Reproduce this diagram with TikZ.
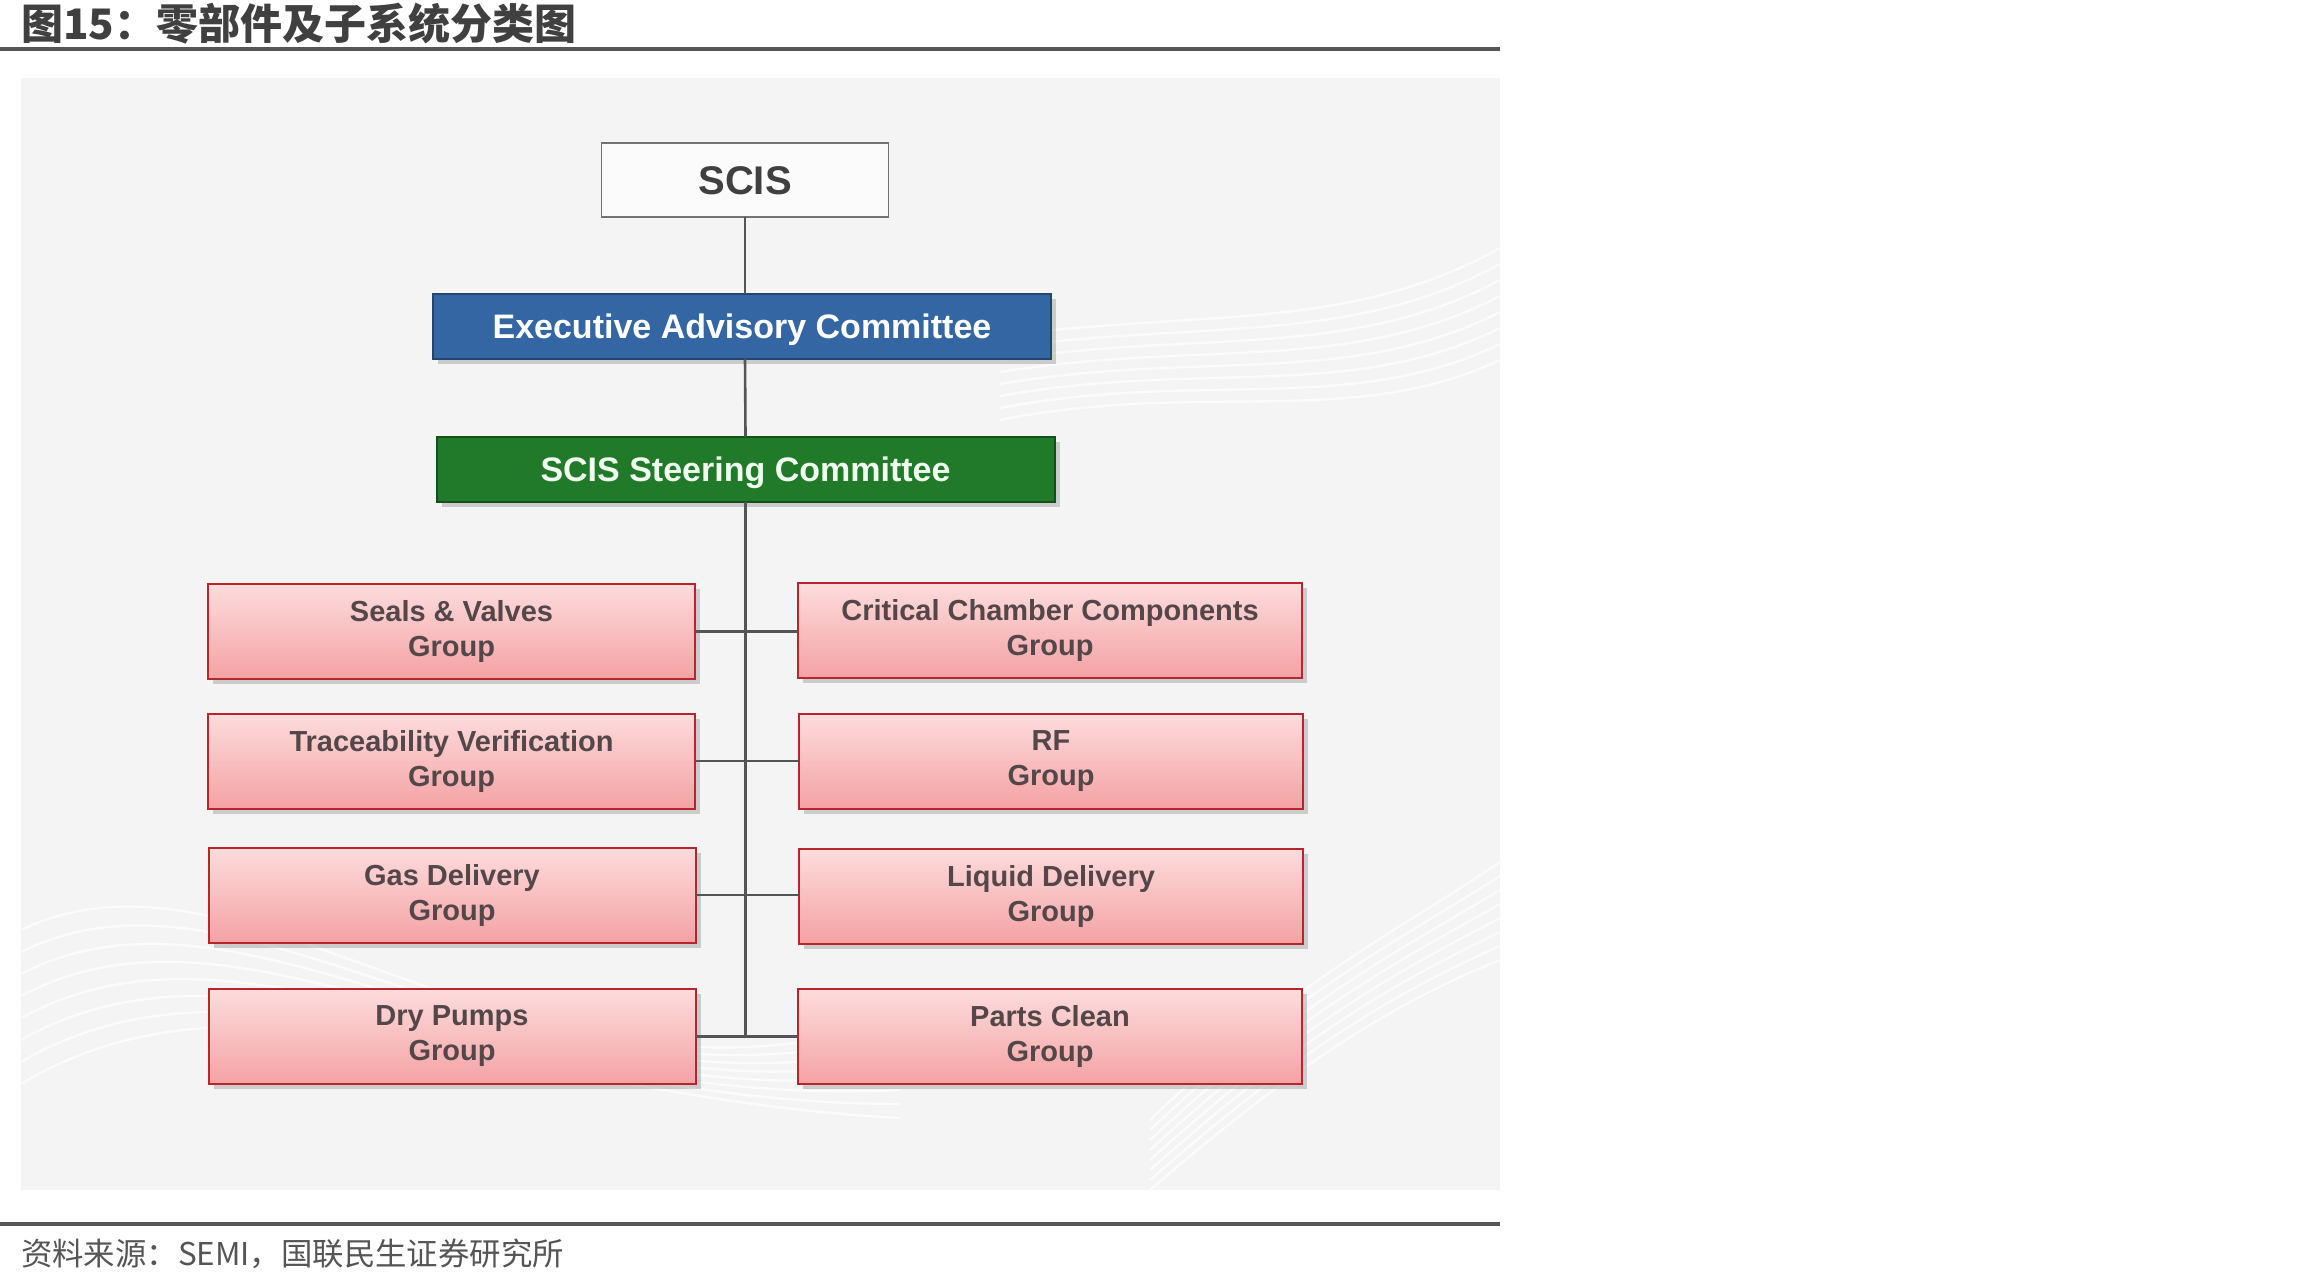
\documentclass[tikz,border=0pt]{standalone}
\usepackage{fontspec}
\setmainfont{Liberation Sans}
\newfontfamily\cjk{Noto Sans CJK SC}
\usetikzlibrary{shadows}
\definecolor{titlegray}{HTML}{404040}
\definecolor{rulegray}{HTML}{555555}
\definecolor{panelbg}{HTML}{F3F4F3}
\definecolor{eacblue}{HTML}{3366A2}
\definecolor{eacborder}{HTML}{22476F}
\definecolor{sscgreen}{HTML}{217A29}
\definecolor{sscborder}{HTML}{14501A}
\definecolor{pinktop}{HTML}{FDDCDC}
\definecolor{pinkbot}{HTML}{F4A2A4}
\definecolor{redborder}{HTML}{B8262C}
\definecolor{boxtext}{HTML}{54474A}
\definecolor{linegray}{HTML}{555555}
\begin{document}
\begin{tikzpicture}[x=0.5pt,y=-0.5pt,
  every node/.style={inner sep=0pt, outer sep=0pt},
  topbox/.style={draw=gray!90!black, line width=0.9pt, fill=white!97!gray, minimum width=143.5pt, minimum height=37pt,
     text height=14.3pt, text depth=0pt, font=\fontsize{20}{24}\selectfont\bfseries, text=titlegray},
  bandbox/.style={line width=1pt, minimum width=309pt, minimum height=32.5pt, text height=12.2pt, text depth=0pt,
     font=\fontsize{17}{20}\selectfont\bfseries, text=white,
     drop shadow={shadow xshift=2.5pt, shadow yshift=-2.5pt, opacity=0.35}},
  grpbox/.style={draw=redborder, line width=1pt, top color=pinktop, bottom color=pinkbot, minimum height=47.5pt,
     align=center, font=\fontsize{14.5}{17.5}\selectfont\bfseries, text=boxtext,
     drop shadow={shadow xshift=2.5pt, shadow yshift=-2.5pt, opacity=0.35}},
  leftbox/.style={grpbox, minimum width=243.5pt},
  rightbox/.style={grpbox, minimum width=252pt},
  conn/.style={draw=linegray, line width=1.3pt}
]
\useasboundingbox (0,0) rectangle (2310,1285);
\fill[white] (0,0) rectangle (2310,1285);
% title
\node[anchor=west, text=titlegray, font=\cjk\fontsize{21}{25}\selectfont\bfseries] (title) at (21,24) {图15：零部件及子系统分类图};
\draw[rulegray, line width=2pt] (0,49) -- (1500,49);
% panel
\fill[panelbg] (21,78) rectangle (1500,1190);
\begin{scope}[white, line width=1.2pt, opacity=0.7]
  \foreach \k in {0,...,7} {
    \draw (21,{930+\k*22}) .. controls (250,{820+\k*18}) and (520,{1140-\k*6}) .. (900,{1020+\k*14});
    \draw (1000,{420-\k*12}) .. controls (1200,{380-\k*10}) and (1350,{430-\k*14}) .. (1500,{360-\k*16});
    \draw (1150,{1190-\k*10}) .. controls (1300,{1060-\k*12}) and (1400,{1000-\k*10}) .. (1500,{960-\k*14});
  }
\end{scope}
% nodes
\node[topbox] (scis) at (745,180) {SCIS};
\node[bandbox, draw=eacborder, fill=eacblue] (eac) at (742,326) {Executive Advisory Committee};
\node[bandbox, draw=sscborder, fill=sscgreen, text=green!6!white] (ssc) at (745.5,469) {SCIS Steering Committee};
\node[leftbox] (l1) at (451.5,631.5) {Seals \& Valves\\Group};
\node[leftbox] (l2) at (451.5,761) {Traceability Verification\\Group};
\node[leftbox] (l3) at (452,895) {Gas Delivery\\Group};
\node[leftbox] (l4) at (452,1036.5) {Dry Pumps\\Group};
\node[rightbox] (r1) at (1050,630.5) {Critical Chamber Components\\Group};
\node[rightbox] (r2) at (1051,761) {RF\\Group};
\node[rightbox] (r3) at (1051,896) {Liquid Delivery\\Group};
\node[rightbox] (r4) at (1050,1036.5) {Parts Clean\\Group};
\coordinate (trunkend) at (ssc.south |- l4.east);
% connectors
\draw[conn] (scis.south) -- (scis.south |- eac.north);
\draw[conn] (eac.south -| scis.south) -- (ssc.north);
\draw[conn] (ssc.south) -- (trunkend);
\draw[conn] (l1.east) -- (r1.west |- l1.east);
\draw[conn] (l2.east) -- (r2.west |- l2.east);
\draw[conn] (l3.east) -- (r3.west |- l3.east);
\draw[conn] (l4.east) -- (r4.west |- l4.east);
% footer
\draw[rulegray, line width=2pt] (0,1224) -- (1500,1224);
\node[anchor=west, text=rulegray, font=\cjk\fontsize{15.7}{18}\selectfont] (src) at (21,1254) {资料来源：SEMI，国联民生证券研究所};
\end{tikzpicture}
\end{document}
